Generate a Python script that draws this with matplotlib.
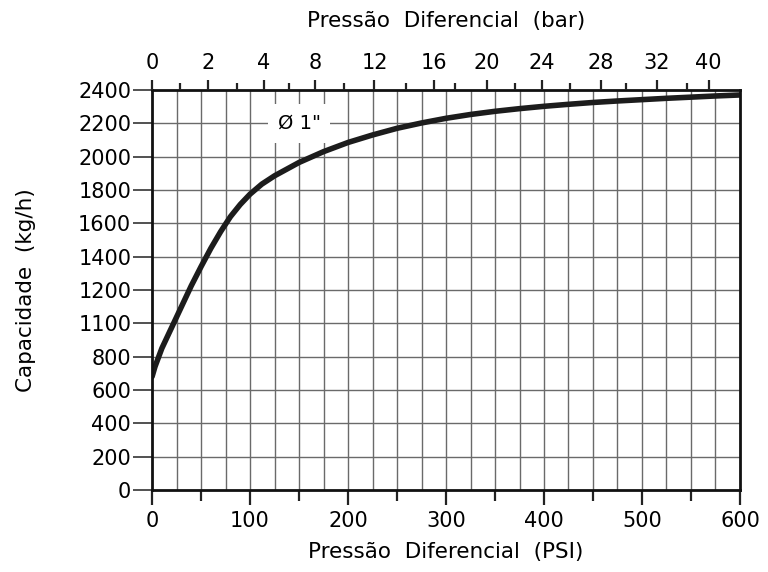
import matplotlib.pyplot as plt
import numpy as np

plt.rcParams["font.family"] = ["DejaVu Sans"]

# curve: capacity (kg/h) vs differential pressure (PSI)
psi = [0, 3, 10, 20, 30, 40, 50, 60, 70, 80, 90, 100, 112, 125, 150, 175,
       200, 225, 250, 275, 300, 325, 350, 375, 400, 425, 450, 475, 500, 525,
       550, 575, 600]
capacity = [680, 740, 850, 975, 1100, 1225, 1340, 1450, 1550, 1640, 1713,
            1775, 1835, 1885, 1965, 2030, 2085, 2130, 2170, 2202, 2230, 2253,
            2272, 2288, 2302, 2314, 2325, 2334, 2342, 2350, 2357, 2364, 2370]

# y tick labels as printed (the 1000 line is labelled "1100" in the original)
y_ticks = [0, 200, 400, 600, 800, 1000, 1200, 1400, 1600, 1800, 2000, 2200, 2400]
y_labels = ["0", "200", "400", "600", "800", "1100", "1200", "1400", "1600",
            "1800", "2000", "2200", "2400"]

psi_ticks = [0, 100, 200, 300, 400, 500, 600]
psi_minor = [50, 150, 250, 350, 450, 550]

# top (bar) scale is not linear: PSI positions of the bar labels
bar_labels = ["0", "2", "4", "8", "12", "16", "20", "24", "28", "32", "40"]
bar_psi = [0, 57, 114, 166, 227, 288, 342, 398, 458, 515, 568]
bar_minor_psi = [29, 87, 140, 196, 259, 309, 370, 427, 484, 546]

fig = plt.figure(figsize=(7.68, 5.72), dpi=100)
ax = fig.add_axes([0.198, 0.1434, 0.7655, 0.6993])

ax.set_xlim(0, 600)
ax.set_ylim(0, 2400)

# grid: every 25 PSI, every 200 kg/h
for gx in np.arange(25, 600, 25):
    ax.axvline(gx, color="#6a6a6a", lw=1.0, zorder=1)
for gy in np.arange(200, 2400, 200):
    ax.axhline(gy, color="#6a6a6a", lw=1.0, zorder=1)

ax.plot(psi, capacity, color="#1c1c1c", lw=4.0, solid_capstyle="round",
        solid_joinstyle="round", zorder=3)

ax.text(150, 2200, "Ø 1\"", fontsize=14, ha="center", va="center", zorder=4,
        bbox=dict(facecolor="white", edgecolor="none", pad=7))

for side in ["left", "right", "top", "bottom"]:
    ax.spines[side].set_linewidth(2.0)
    ax.spines[side].set_color("#111111")
    ax.spines[side].set_zorder(5)

ax.set_yticks(y_ticks)
ax.set_yticklabels(y_labels)
ax.set_xticks(psi_ticks)
ax.set_xticks(psi_minor, minor=True)
ax.tick_params(axis="x", which="major", direction="out", length=11, width=1.6,
               labelsize=15, pad=4, color="#222222")
ax.tick_params(axis="x", which="minor", direction="out", length=8, width=1.6,
               color="#222222")
ax.tick_params(axis="y", direction="out", length=14, width=1.2, labelsize=15,
               pad=1, color="#333333")

ax.set_xlabel("Pressão  Diferencial  (PSI)", fontsize=15.5)
ax.xaxis.set_label_coords(0.5, -0.13)
ax.set_ylabel("Capacidade  (kg/h)", fontsize=15.5)
ax.yaxis.set_label_coords(-0.197, 0.5)

# top bar scale
top = ax.twiny()
top.set_xlim(ax.get_xlim())
top.set_xticks(bar_psi)
top.set_xticklabels(bar_labels)
top.set_xticks(bar_minor_psi, minor=True)
top.tick_params(axis="x", which="major", direction="out", length=7.5, width=1.6,
                labelsize=15, pad=5, color="#222222")
top.tick_params(axis="x", which="minor", direction="out", length=5, width=1.6,
                color="#222222")
top.set_xlabel("Pressão  Diferencial  (bar)", fontsize=15.5)
top.xaxis.set_label_coords(0.5, 1.158)
for side in ["left", "right", "top", "bottom"]:
    top.spines[side].set_visible(False)

fig.savefig("out.png", dpi=100, facecolor="white")
